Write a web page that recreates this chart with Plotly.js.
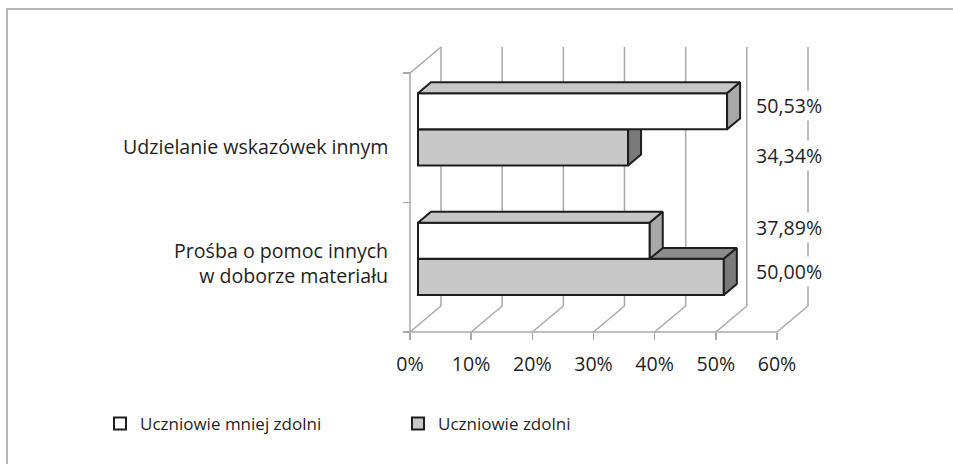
<!DOCTYPE html>
<html>
<head>
<meta charset="utf-8">
<script src="https://cdn.plot.ly/plotly-3.0.1.min.js"></script>
<style>
html, body { margin: 0; padding: 0; background: #ffffff; }
#chart { width: 953px; height: 464px; }
</style>
</head>
<body>
<div id="chart"></div>
<script>
// ---------------- data ----------------
// categories listed bottom -> top
const categories = ['Prośba o pomoc innych<br>w doborze materiału', 'Udzielanie wskazówek innym'];
const seriesNames = ['Uczniowie mniej zdolni', 'Uczniowie zdolni'];
const lessAbleValues = [37.89, 50.53];
const ableValues = [50.00, 34.34];
const tickValues = [0, 10, 20, 30, 40, 50, 60];
const tickLabels = ['0%', '10%', '20%', '30%', '40%', '50%', '60%'];

// ---------------- geometry (pixels -> axis units) ----------------
const W = 953, H = 464;
const PXX = 367 / 60;      // px per percent
const PXY = 129.5;         // px per category band
const X0 = 410, Y0 = 332;  // front-floor origin in px
const domL = 396, domR = 818, domT = 40, domB = 344;
const xRange = [(domL - X0) / PXX, (domR - X0) / PXX];
const yRange = [(Y0 - domB) / PXY, (Y0 - domT) / PXY];
const DX = 31 / PXX, DY = 26 / PXY;     // full depth of the 3D box
const OX = 8 / PXX;                      // bar front plane offset
const PAIR = 0.065;                      // bar pair centre shift (depth)
const BW = 0.279;                        // bar thickness
const BX = 13 / PXX, BY = 10.9 / PXY;    // bar depth
const nCat = categories.length;

const FONT = '"Open Sans", Lato, sans-serif';
const FS = 19.6;
const LFS = 17;
const TXT = '#1f1f1f';
const GRID = '#a9a9a9';
const EDGE = '#1e1e1e';

// ---------------- frame / walls as shapes ----------------
const shapes = [];
const wall = { color: GRID, width: 1.5 };
tickValues.forEach(t => {
  shapes.push({ type: 'line', xref: 'x', yref: 'y', layer: 'below', x0: t + DX, y0: DY, x1: t + DX, y1: nCat + DY, line: wall });
  shapes.push({ type: 'line', xref: 'x', yref: 'y', layer: 'below', x0: t, y0: 0, x1: t + DX, y1: DY, line: wall });
});
shapes.push({ type: 'line', xref: 'x', yref: 'y', layer: 'below', x0: 0, y0: 0, x1: 0, y1: nCat, line: wall });
shapes.push({ type: 'line', xref: 'x', yref: 'y', layer: 'below', x0: 0, y0: nCat, x1: DX, y1: nCat + DY, line: wall });
shapes.push({ type: 'line', xref: 'x', yref: 'y', layer: 'below', x0: 0, y0: 0, x1: tickValues[tickValues.length - 1], y1: 0, line: wall });
// outer frame (only top/left edges visible)
shapes.push({ type: 'rect', xref: 'paper', yref: 'paper', layer: 'below',
  x0: 7 / W, x1: 1.05, y0: -0.05, y1: 1 - 9 / H, line: { color: '#a0a0a0', width: 1.5 }, fillcolor: 'rgba(0,0,0,0)' });

// ---------------- bars ----------------
function seriesTraces(values, name, above, colors, xa, ya, rank) {
  const centres = values.map((_, i) => i + 0.5 + PAIR);
  const lo = centres.map(c => above ? c : c - BW);
  const hi = centres.map(c => above ? c + BW : c);
  const front = {
    type: 'bar', orientation: 'h', name: name,
    x: values, y: centres, base: OX, width: BW, offset: above ? 0 : -BW,
    marker: { color: colors.front, line: { color: EDGE, width: 2 } },
    xaxis: xa, yaxis: ya, hoverinfo: 'skip', legend: rank === 1 ? 'legend' : 'legend2', legendrank: rank
  };
  const tx = [], ty = [], sx = [], sy = [];
  values.forEach((v, i) => {
    const e = OX + v;
    tx.push(OX, e, e + BX, OX + BX, OX, null);
    ty.push(hi[i], hi[i], hi[i] + BY, hi[i] + BY, hi[i], null);
    sx.push(e, e, e + BX, e + BX, e, null);
    sy.push(lo[i], hi[i], hi[i] + BY, lo[i] + BY, lo[i], null);
  });
  const face = (x, y, fill) => ({
    type: 'scatter', mode: 'lines', x: x, y: y, fill: 'toself', fillcolor: fill,
    line: { color: EDGE, width: 2 }, xaxis: xa, yaxis: ya, hoverinfo: 'skip', showlegend: false
  });
  return [front, face(tx, ty, colors.top), face(sx, sy, colors.side)];
}

const whiteTraces = seriesTraces(lessAbleValues, seriesNames[0], true,
  { front: '#ffffff', top: '#c6c6c6', side: '#a8a8a8' }, 'x2', 'y2', 1);
const grayTraces = seriesTraces(ableValues, seriesNames[1], false,
  { front: '#c8c8c8', top: '#8c8c8c', side: '#7a7a7a' }, 'x', 'y', 2);

// ---------------- annotations ----------------
const annotations = [];
const fmt = v => v.toFixed(2).replace('.', ',') + '%';
// label vertical nudges (category bands) for [mniej zdolni, zdolni]
const nudgeLess = [0.106, 0.048];
const nudgeAble = [0.038, -0.059];
lessAbleValues.forEach((v, i) => {
  annotations.push({ xref: 'paper', yref: 'y', x: 754 / W, y: i + 0.5 + PAIR + BW / 2 + nudgeLess[i],
    xanchor: 'left', yanchor: 'middle', text: fmt(v), showarrow: false, bgcolor: '#ffffff', borderpad: 1,
    font: { family: FONT, size: FS, color: TXT } });
});
ableValues.forEach((v, i) => {
  annotations.push({ xref: 'paper', yref: 'y', x: 754 / W, y: i + 0.5 + PAIR - BW / 2 + nudgeAble[i],
    xanchor: 'left', yanchor: 'middle', text: fmt(v), showarrow: false, bgcolor: '#ffffff', borderpad: 1,
    font: { family: FONT, size: FS, color: TXT } });
});
// category labels
const catLabelY = [0.53, 1.43];
categories.forEach((c, i) => {
  annotations.push({ xref: 'paper', yref: 'y', x: 390 / W, y: catLabelY[i], xanchor: 'right', yanchor: 'middle',
    align: 'right', text: c, showarrow: false, font: { family: FONT, size: FS, color: TXT } });
});

const layout = {
  width: W, height: H,
  margin: { l: 0, r: 0, t: 0, b: 0 },
  paper_bgcolor: '#ffffff', plot_bgcolor: 'rgba(0,0,0,0)',
  font: { family: FONT, size: FS, color: TXT },
  showlegend: true,
  xaxis: {
    domain: [domL / W, domR / W], range: xRange, anchor: 'free', position: 1 - Y0 / H,
    tickvals: tickValues, ticktext: tickLabels, ticks: 'outside', ticklen: 7, tickwidth: 1.5, tickcolor: GRID,
    ticklabelstandoff: 7, tickfont: { family: FONT, size: FS, color: TXT },
    showline: false, showgrid: false, zeroline: false, fixedrange: true
  },
  yaxis: {
    domain: [1 - domB / H, 1 - domT / H], range: yRange, anchor: 'free', position: X0 / W,
    tickvals: [0, 1, 2], ticks: 'outside', ticklen: 7, tickwidth: 1.5, tickcolor: GRID, showticklabels: false,
    showline: false, showgrid: false, zeroline: false, fixedrange: true
  },
  xaxis2: { overlaying: 'x', matches: 'x', visible: false },
  yaxis2: { overlaying: 'y', matches: 'y', visible: false },
  legend: { orientation: 'h', x: 100 / W, xanchor: 'left', y: 1 - 424 / H, yanchor: 'middle',
    font: { family: FONT, size: LFS, color: TXT }, bgcolor: 'rgba(0,0,0,0)' },
  legend2: { orientation: 'h', x: 398 / W, xanchor: 'left', y: 1 - 424 / H, yanchor: 'middle',
    font: { family: FONT, size: LFS, color: TXT }, bgcolor: 'rgba(0,0,0,0)' },
  shapes: shapes,
  annotations: annotations,
  barmode: 'overlay'
};

Plotly.newPlot('chart', [...whiteTraces, ...grayTraces], layout, { staticPlot: true, displayModeBar: false });
</script>
</body>
</html>
